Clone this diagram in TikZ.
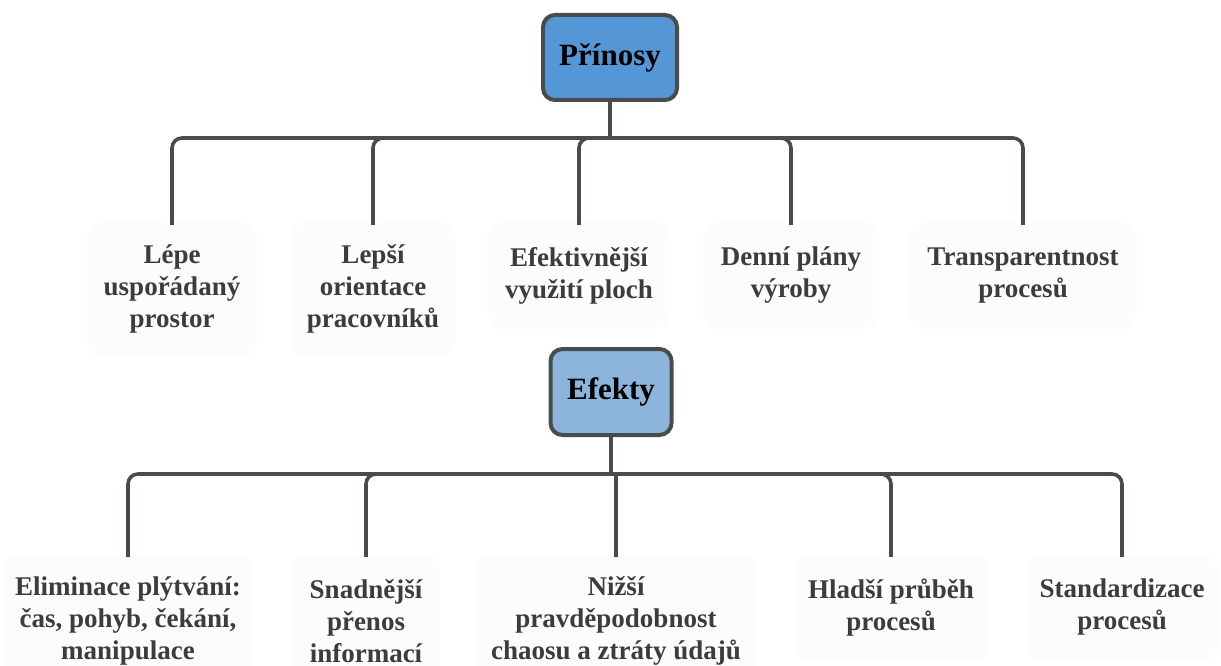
\documentclass[tikz,border=0pt]{standalone}
\usepackage{fontspec}
\setmainfont{Liberation Serif}
\definecolor{linec}{HTML}{474D4D}
\definecolor{headA}{HTML}{5597D6}
\definecolor{headB}{HTML}{8DB4DA}
\definecolor{leaffill}{HTML}{FBFCFC}
\definecolor{leaftext}{HTML}{3C3C3C}
\begin{document}
\begin{tikzpicture}[x=1pt,y=-1pt,
  conn/.style={draw=linec, line width=3.6pt, rounded corners=10pt},
  head/.style={rectangle, rounded corners=12pt, draw=linec, line width=4pt,
    text=black, font=\fontsize{31}{36}\selectfont\bfseries, inner sep=0pt},
  leaf/.style={rectangle, rounded corners=16pt, fill=leaffill, text=leaftext,
    font=\fontsize{27}{32}\selectfont\bfseries, align=center, inner sep=0pt},
  tall/.style={minimum height=134pt},
  short/.style={minimum height=107pt}]
\useasboundingbox[fill=white] (0,0) rectangle (1221,666);

% ---- upper tree: Přínosy ----
\node[head, fill=headA, minimum width=134pt, minimum height=85pt] (p) at (610,57.5) {Přínosy};
\node[leaf, tall,  minimum width=170pt] (t1) at (172,289)  {Lépe\\uspořádaný\\prostor};
\node[leaf, tall,  minimum width=166pt] (t2) at (373,289)  {Lepší\\orientace\\pracovníků};
\node[leaf, short, minimum width=183pt] (t3) at (579,275.5) {Efektivnější\\využití ploch};
\node[leaf, short, minimum width=176pt] (t4) at (791,275.5) {Denní plány\\výroby};
\node[leaf, short, minimum width=227pt] (t5) at (1023,275.5) {Transparentnost\\procesů};

\coordinate (jp) at (610,138);
\draw[conn] (p.south) -- (jp);
\foreach \c in {t1,t2,t3,t4,t5}
  \draw[conn] (jp) -| ([yshift=-3pt]\c.north);

% ---- lower tree: Efekty ----
\node[head, fill=headB, minimum width=121pt, minimum height=86pt] (e) at (611,392) {Efekty};
\node[leaf, tall,  minimum width=250pt] (b1) at (128,621)  {Eliminace plýtvání:\\čas, pohyb, čekání,\\manipulace};
\node[leaf, tall,  minimum width=148pt] (b2) at (366,621)  {Snadnější\\přenos\\informací};
\node[leaf, tall,  minimum width=284pt] (b3) at (616,621)  {Nižší\\pravděpodobnost\\chaosu a ztráty údajů};
\node[leaf, short, minimum width=194pt] (b4) at (891,607.5) {Hladší průběh\\procesů};
\node[leaf, short, minimum width=192pt] (b5) at (1122,607.5) {Standardizace\\procesů};

\coordinate (je) at (611,474);
\draw[conn] (e.south) -- (je);
\foreach \c in {b1,b2,b4,b5}
  \draw[conn] (je) -| ([yshift=-3pt]\c.north);
\draw[conn, sharp corners] (je) -| ([yshift=-3pt]b3.north);
\end{tikzpicture}
\end{document}
